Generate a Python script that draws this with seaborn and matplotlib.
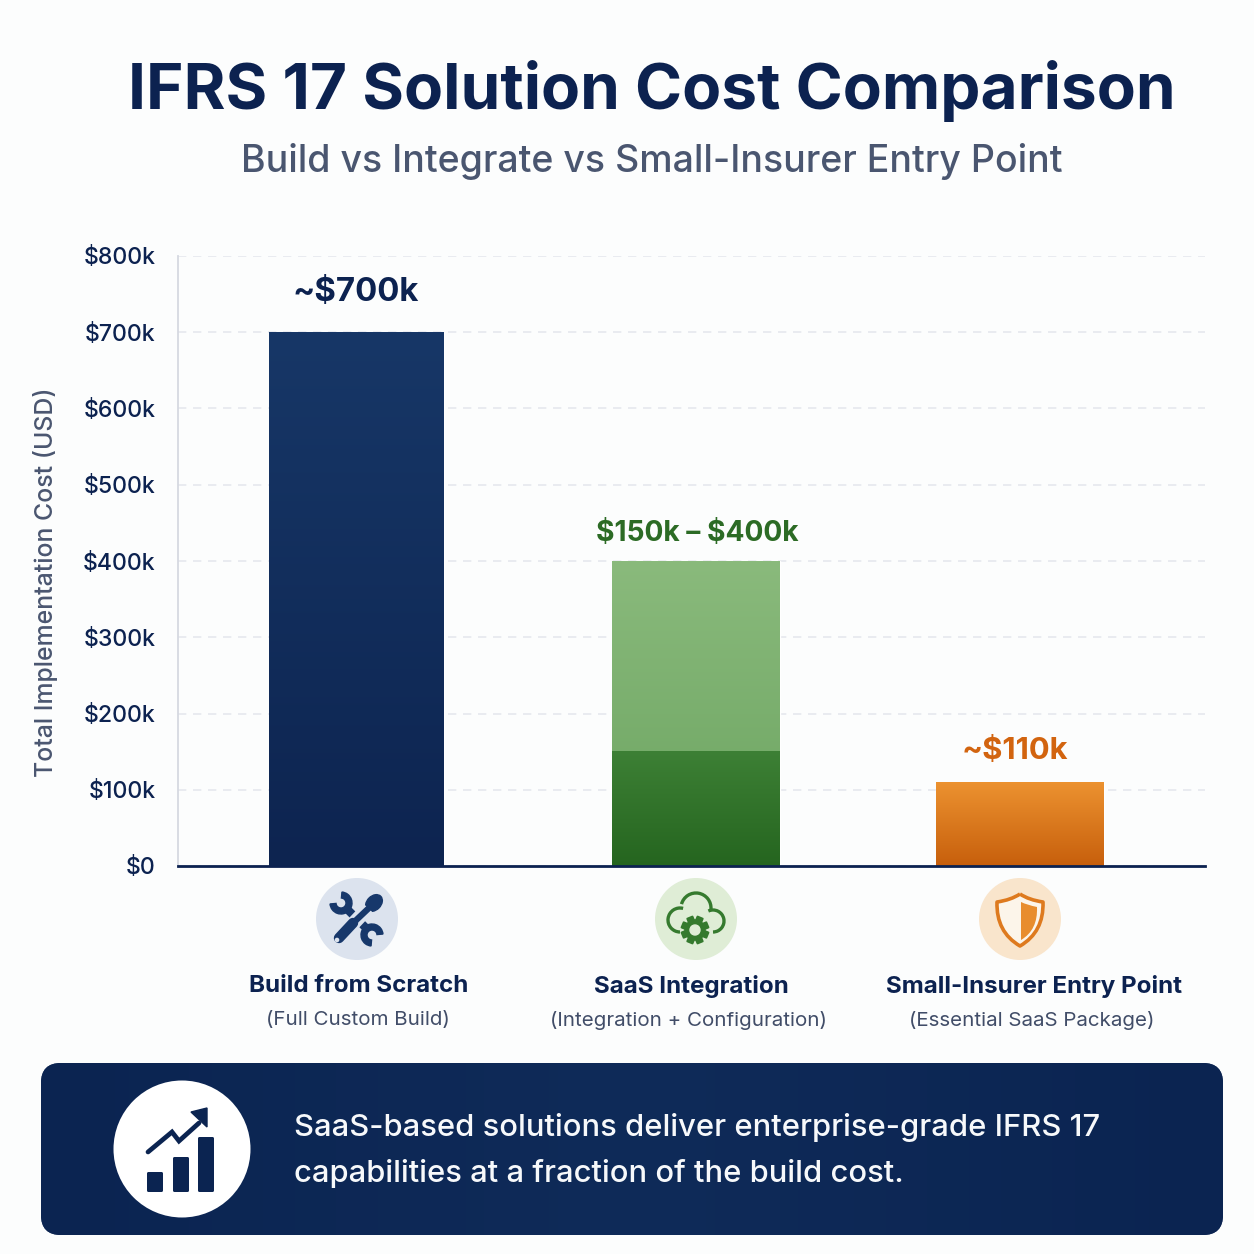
import numpy as np
import pandas as pd
import matplotlib
matplotlib.use("Agg")
import matplotlib.pyplot as plt
import seaborn as sns
from matplotlib.colors import LinearSegmentedColormap
from matplotlib.patches import Arc, Circle, Ellipse, FancyBboxPatch, PathPatch, Polygon, Wedge
from matplotlib.path import Path

# Chart values, in thousands of USD
solutions = ["Build from Scratch", "SaaS Integration", "Small-Insurer Entry Point"]
subtitles = ["(Full Custom Build)", "(Integration + Configuration)", "(Essential SaaS Package)"]
upper_costs = [700, 400, 110]
lower_costs = [None, 150, None]
cost_labels = ["~$700k", "$150k – $400k", "~$110k"]
tick_values = [0, 100, 200, 300, 400, 500, 600, 700, 800]
tick_labels = ["$0", "$100k", "$200k", "$300k", "$400k", "$500k", "$600k", "$700k", "$800k"]

NAVY = "#0C2250"
SLATE = "#4A5670"
SIZE = 1254
BG = "#FCFDFD"

sns.set_theme(style="white")
plt.rcParams["font.family"] = ["Inter", "DejaVu Sans"]

fig = plt.figure(figsize=(SIZE / 100, SIZE / 100), dpi=100, facecolor=BG)


def px_rect(left, top, right, bottom):
    return [left / SIZE, 1 - bottom / SIZE, (right - left) / SIZE, (bottom - top) / SIZE]


ax = fig.add_axes(px_rect(178, 256, 1205, 866), facecolor="none")
frame = pd.DataFrame({"solution": solutions, "cost": upper_costs})
sns.barplot(data=frame, x="solution", y="cost", hue="solution", order=solutions,
            palette=["#153568", "#8DBB7C", "#E88C2B"], legend=False, ax=ax, zorder=3)
ax.set_xlim(-0.5, 2.5)
ax.set_ylim(0, 800)

# Bar extents along the baseline, in axes fractions
bar_spans = [(91 / 1027, 266 / 1027), (434 / 1027, 602 / 1027), (758 / 1027, 926 / 1027)]
bar_ramps = [("#173767", "#0D2450"), ("#8ABA7C", "#6BA460"), ("#EC9230", "#C75F0C")]
to_data = ax.transAxes + ax.transData.inverted()


def gradient_fill(left, right, low, high, top_color, bottom_color, z=4):
    cmap = LinearSegmentedColormap.from_list("ramp", [bottom_color, top_color])
    ramp = np.linspace(0, 1, 256).reshape(-1, 1)
    ax.imshow(ramp, extent=(left, right, low, high), origin="lower", aspect="auto",
              cmap=cmap, zorder=z, interpolation="bilinear")


for patch, span, ramp, high in zip(ax.patches, bar_spans, bar_ramps, upper_costs):
    left = to_data.transform((span[0], 0))[0]
    right = to_data.transform((span[1], 0))[0]
    patch.set_x(left)
    patch.set_width(right - left)
    gradient_fill(left, right, 0, high, *ramp)

# Committed part of the range bar
mid_left = to_data.transform((bar_spans[1][0], 0))[0]
mid_right = to_data.transform((bar_spans[1][1], 0))[0]
gradient_fill(mid_left, mid_right, 0, lower_costs[1], "#3D8035", "#25651F", z=5)
ax.set_xlim(-0.5, 2.5)
ax.set_ylim(0, 800)
ax.set_aspect("auto")

ax.set_yticks(tick_values, [t.replace("$", r"\$") for t in tick_labels])
ax.tick_params(axis="y", length=0, pad=16, labelsize=16.6, labelcolor=NAVY)
for lab in ax.get_yticklabels():
    lab.set_fontweight("medium")
ax.set_xticks([])
ax.set_xlabel("")
ax.set_ylabel("")
ax.grid(axis="y", color="#E6E8EE", linestyle=(0, (5, 4)), linewidth=1.2, zorder=0)
ax.set_axisbelow(True)
for side in ("top", "right"):
    ax.spines[side].set_visible(False)
ax.spines["left"].set_color("#D6D9E1")
ax.spines["left"].set_linewidth(1.3)
ax.spines["bottom"].set_color(NAVY)
ax.spines["bottom"].set_linewidth(2)
ax.spines["bottom"].set_zorder(6)

# Overlay in pixel coordinates for headers, icons and the banner
ov = fig.add_axes([0, 0, 1, 1], facecolor="none")
ov.set_xlim(0, SIZE)
ov.set_ylim(SIZE, 0)
ov.axis("off")

ov.text(652, 91, "IFRS 17 Solution Cost Comparison", ha="center", va="center",
        fontsize=46, fontweight="bold", color=NAVY)
ov.text(652, 162, "Build vs Integrate vs Small-Insurer Entry Point", ha="center", va="center",
        fontsize=27, fontweight="medium", color=SLATE)
ov.text(46, 582, "Total Implementation Cost (USD)", rotation=90, ha="center", va="center",
        fontsize=17.9, fontweight="medium", color=SLATE)

label_colors = [NAVY, "#2C6B25", "#D2640F"]
label_x = [356, 697, 1015]
label_y = [292, 533, 751]
label_sizes = [23.7, 20.3, 22.3]
for text, x, y, color, fs in zip(cost_labels, label_x, label_y, label_colors, label_sizes):
    ov.text(x, y, text, ha="center", va="center", fontsize=fs, fontweight="bold", color=color,
            parse_math=False)

name_x = [359, 691, 1034]
sub_x = [358, 689, 1032]
for name, sub, x, xs in zip(solutions, subtitles, name_x, sub_x):
    ov.text(x, 986, name, ha="center", va="center", fontsize=17.4, fontweight="bold", color=NAVY)
    ov.text(xs, 1020, sub, ha="center", va="center", fontsize=14.8, color="#414D68")

# Wrench and screwdriver icon
TOOL_BG = "#DCE3EE"
TOOL = "#17386B"
ov.add_patch(Circle((357, 919), 41, color=TOOL_BG, ec="none"))
ov.plot([345, 369], [907, 931], color=TOOL, lw=6, solid_capstyle="butt")
ov.add_patch(Wedge((341, 903), 11, 275, 175, width=6, color=TOOL))
ov.add_patch(Wedge((372, 935), 11, 95, 355, width=6, color=TOOL))
ov.plot([336, 368], [942, 908], color=TOOL_BG, lw=10, solid_capstyle="butt")
ov.plot([339, 353], [938, 923], color=TOOL, lw=7.5, solid_capstyle="round")
ov.plot([351, 370], [925, 907], color=TOOL, lw=4.5, solid_capstyle="butt")
ov.add_patch(Ellipse((374, 903), 14, 19, angle=45, color=TOOL))
ov.add_patch(Circle((337, 940), 1.6, color=TOOL_BG, zorder=5))

# Cloud and gear icon
CLOUD_BG = "#DFEDD6"
GR = "#357A2E"
ov.add_patch(Circle((696, 919), 41, color=CLOUD_BG, ec="none"))
for center, diameter, start, stop in [((680, 920), 24, 90, 285), ((696, 908), 30, 195, 365),
                                      ((713, 921), 22, 245, 450)]:
    ov.add_patch(Arc(center, diameter, diameter, theta1=start, theta2=stop, color=GR, lw=2.4))
for a in np.deg2rad(np.arange(0, 360, 45) + 22.5):
    ov.add_patch(Polygon([(695 + 8 * np.cos(a - 0.4), 930 + 8 * np.sin(a - 0.4)),
                          (695 + 14 * np.cos(a - 0.22), 930 + 14 * np.sin(a - 0.22)),
                          (695 + 14 * np.cos(a + 0.22), 930 + 14 * np.sin(a + 0.22)),
                          (695 + 8 * np.cos(a + 0.4), 930 + 8 * np.sin(a + 0.4))],
                         closed=True, color=GR, zorder=3))
ov.add_patch(Circle((695, 930), 10, color=GR, zorder=3))
ov.add_patch(Circle((695, 930), 5, color=CLOUD_BG, zorder=4))

# Shield icon
SHIELD_BG = "#F9E5CC"
OR = "#DE7A1E"
ov.add_patch(Circle((1020, 919), 41, color=SHIELD_BG, ec="none"))
shield = Path([(1020, 894), (1029, 900), (1043, 902), (1044, 932), (1020, 946),
               (996, 932), (997, 902), (1011, 900), (1020, 894)],
              [Path.MOVETO, Path.CURVE3, Path.CURVE3, Path.CURVE3, Path.CURVE3,
               Path.CURVE3, Path.CURVE3, Path.CURVE3, Path.CURVE3])
ov.add_patch(PathPatch(shield, fc="#FCF5EA", ec=OR, lw=2.6, joinstyle="round"))
half = Path([(1021, 902), (1027, 905), (1037, 907), (1038, 930), (1021, 940), (1021, 902)],
            [Path.MOVETO, Path.CURVE3, Path.CURVE3, Path.CURVE3, Path.CURVE3, Path.CLOSEPOLY])
ov.add_patch(PathPatch(half, fc="#E88D2E", ec="none"))

# Takeaway banner with a soft lighter band through its middle
BANNER = "#0B2451"
box = FancyBboxPatch((41 + 18, 1063 + 18), 1182 - 36, 172 - 36,
                     boxstyle="round,pad=18,rounding_size=20", fc=BANNER, ec="none")
ov.add_patch(box)
sheen = LinearSegmentedColormap.from_list("sheen", [BANNER, "#0F2B59", BANNER])
band = ov.imshow(np.linspace(0, 1, 256).reshape(1, -1), extent=(41, 1223, 1235, 1063),
                 aspect="auto", cmap=sheen, zorder=1.1)
band.set_clip_path(box)
ov.set_xlim(0, SIZE)
ov.set_ylim(SIZE, 0)
ov.add_patch(Circle((182, 1149), 68.5, color="white", ec="none", zorder=2))
for x0, x1, y0 in [(147, 163, 1172), (173, 189, 1157), (198, 214, 1137)]:
    ov.add_patch(FancyBboxPatch((x0, y0), x1 - x0, 1192 - y0, boxstyle="round,pad=0,rounding_size=1.5",
                                fc=BANNER, ec="none", zorder=3))
ov.plot([148, 172, 179, 199], [1152, 1132, 1141, 1123], color=BANNER, lw=3.4,
        solid_joinstyle="miter", zorder=3)
ov.add_patch(Polygon([(191, 1112), (207, 1108), (207, 1127)], closed=True, color=BANNER, zorder=3))
ov.text(294, 1128, "SaaS-based solutions deliver enterprise-grade IFRS 17", ha="left", va="center",
        fontsize=22.25, fontweight="medium", color="#F7F9FB", zorder=3)
ov.text(294, 1173, "capabilities at a fraction of the build cost.", ha="left", va="center",
        fontsize=22.25, fontweight="medium", color="#F7F9FB", zorder=3)

fig.savefig("out.png", dpi=100, facecolor=BG)
